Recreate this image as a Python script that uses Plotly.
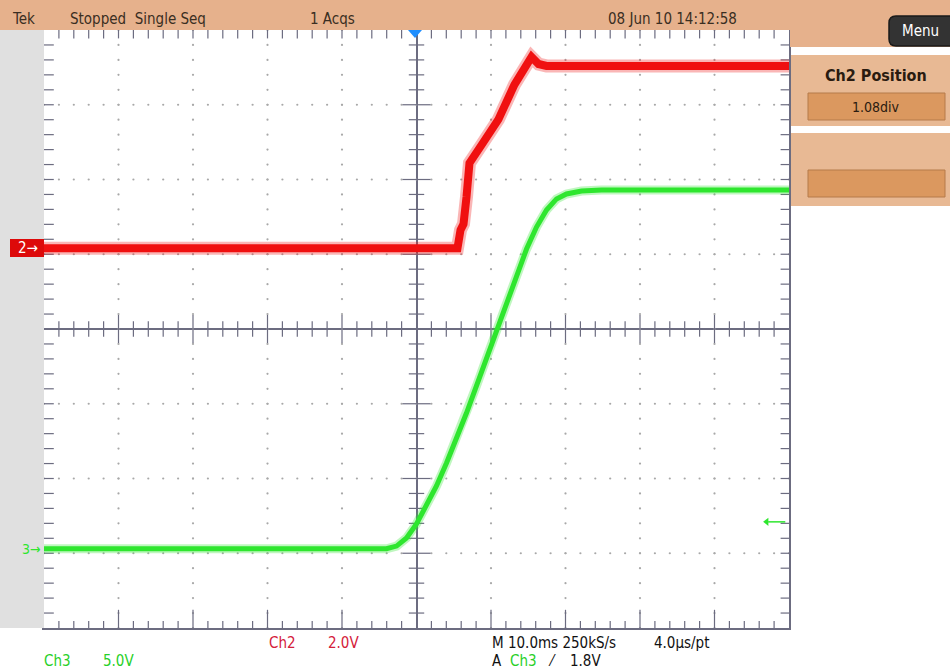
import numpy as np
import plotly.graph_objects as go

# ---------------- data ----------------
TIME_SCALE_MS = 10.0          # ms / div
CH2_SCALE_V = 2.0             # V / div
CH2_POS_DIV = 1.08            # div
CH3_SCALE_V = 5.0             # V / div
CH3_POS_DIV = -2.94           # div
TRIG_LEVEL_V = 1.8

ch2_time_ms = [-50.0, 5.50, 5.91, 6.31, 6.71, 7.11, 8.72, 11.00, 13.15, 15.03, 15.44, 16.38, 17.45, 50.0]
ch2_volts   = [0.00, 0.00, 0.49, 0.65, 1.37, 2.28, 2.76, 3.45, 4.38, 5.02, 5.12, 4.93, 4.88, 4.88]

ch3_time_ms = [-50.0, -4.03, -2.68, -1.34, 0.00, 1.34, 2.68, 4.03, 5.37, 6.71, 8.05, 9.40,
               10.74, 12.08, 13.42, 14.77, 16.11, 17.45, 18.79, 20.13, 22.15, 24.83, 50.0]
ch3_volts   = [0.00, 0.00, 0.18, 0.72, 1.66, 2.86, 4.20, 5.74, 7.34, 9.08, 10.89, 12.76,
               14.63, 16.51, 18.31, 20.05, 21.52, 22.66, 23.40, 23.73, 23.93, 24.00, 24.00]

header_labels = ["Tek", "Stopped  Single Seq", "1 Acqs", "08 Jun 10 14:12:58"]

# ---------------- helpers ----------------
L, R, T, B = 44, 789, 30, 628     # graticule pixel box
W, H = 950, 671


def PX(x):
    return (x - L) / (R - L)


def PY(y):
    return (B - y) / (B - T)


FONT = "Liberation Sans Narrow, DejaVu Sans Condensed, Arial Narrow, sans-serif"
GRAT = "#6c6c80"
RED = "#f01010"
GREEN = "#2ee62e"
PEACH = "#e6b18c"
PANEL = "#e8b994"
BUTTON = "#db985f"

ch2_x = [t / TIME_SCALE_MS for t in ch2_time_ms]
ch2_y = [CH2_POS_DIV + v / CH2_SCALE_V for v in ch2_volts]
ch3_x = [t / TIME_SCALE_MS for t in ch3_time_ms]
ch3_y = [CH3_POS_DIV + v / CH3_SCALE_V for v in ch3_volts]
trig_y = CH3_POS_DIV + TRIG_LEVEL_V / CH3_SCALE_V

fig = go.Figure()

# dotted graticule
sub = np.round(np.arange(-25, 26) * 0.2, 2)
suby = np.round(np.arange(-20, 21) * 0.2, 2)
gx, gy = [], []
for xv in range(-4, 5):
    if xv == 0:
        continue
    gx += [xv] * len(suby)
    gy += list(suby)
for yv in range(-3, 4):
    if yv == 0:
        continue
    gx += list(sub)
    gy += [yv] * len(sub)
fig.add_trace(go.Scatter(x=gx, y=gy, mode="markers", hoverinfo="skip",
                         marker=dict(size=2.2, color="#a8a8a8"), showlegend=False))


def ticks(xs, ys, symbol, size):
    fig.add_trace(go.Scatter(x=list(xs), y=list(ys), mode="markers", hoverinfo="skip",
                             cliponaxis=True,
                             marker=dict(symbol=symbol, size=size, color=GRAT,
                                         line=dict(color=GRAT, width=1.2)),
                             showlegend=False))


minor_x = [v for v in sub if abs(v - round(v)) > 1e-6]
major_x = [v for v in range(-4, 5) if v != 0]
minor_y = [v for v in suby if abs(v - round(v)) > 1e-6]
major_y = [v for v in range(-3, 4) if v != 0]

# centre-cross ticks
ticks(minor_x, [0] * len(minor_x), "line-ns-open", 11)
ticks(major_x, [0] * len(major_x), "line-ns-open", 20)
ticks([0] * len(minor_y), minor_y, "line-ew-open", 11)
ticks([0] * len(major_y), major_y, "line-ew-open", 20)
# edge ticks (half clipped by the plot area -> inward ticks)
ticks(minor_x + major_x, [4] * (len(minor_x) + len(major_x)), "line-ns-open", 12)
ticks(minor_x, [-4] * len(minor_x), "line-ns-open", 10)
ticks(major_x, [-4] * len(major_x), "line-ns-open", 26)
ticks([-5] * (len(minor_y) + len(major_y)), minor_y + major_y, "line-ew-open", 14)
ticks([5] * (len(minor_y) + len(major_y)), minor_y + major_y, "line-ew-open", 12)

# waveforms (soft halo + core to mimic the noisy band)
fig.add_trace(go.Scatter(x=ch3_x, y=ch3_y, mode="lines", hoverinfo="skip", opacity=0.3,
                         line=dict(color=GREEN, width=9), showlegend=False))
fig.add_trace(go.Scatter(x=ch3_x, y=ch3_y, mode="lines", name="Ch3",
                         line=dict(color=GREEN, width=5), showlegend=False))
fig.add_trace(go.Scatter(x=ch2_x, y=ch2_y, mode="lines", hoverinfo="skip", opacity=0.3,
                         line=dict(color=RED, width=13), showlegend=False))
fig.add_trace(go.Scatter(x=ch2_x, y=ch2_y, mode="lines", name="Ch2",
                         line=dict(color=RED, width=8), showlegend=False))

# trigger level marker on the right edge (arrow pointing left)
fig.add_trace(go.Scatter(x=[4.95, 4.72], y=[trig_y, trig_y], mode="lines", hoverinfo="skip",
                         cliponaxis=False, line=dict(color=GREEN, width=1.5), showlegend=False))
fig.add_trace(go.Scatter(x=[4.70], y=[trig_y], mode="markers", hoverinfo="skip",
                         cliponaxis=False,
                         marker=dict(symbol="triangle-left", size=7, color=GREEN), showlegend=False))

axis_common = dict(showgrid=False, zeroline=True, zerolinecolor=GRAT, zerolinewidth=1.5,
                   showline=True, linecolor=GRAT, linewidth=1.5, mirror=True,
                   ticks="", showticklabels=False, fixedrange=True)

shapes = []


def rect(x0, y0, x1, y1, color, line=None):
    shapes.append(dict(type="rect", xref="paper", yref="paper", layer="above",
                       x0=PX(x0), x1=PX(x1), y0=PY(y1), y1=PY(y0), fillcolor=color,
                       line=line or dict(width=0)))


# header bar and right panel
rect(0, 0, 950, 30, PEACH)
rect(790, 0, 950, 47, PEACH)
rect(791, 55, 950, 126, PANEL)
rect(791, 133, 950, 206, PANEL)
rect(808, 93, 945, 120, BUTTON, dict(color="#b57a4a", width=1))
rect(808, 170, 945, 197, BUTTON, dict(color="#b57a4a", width=1))
# Menu button (rounded)
mx0, mx1, my0, my1, rr = 889, 952, 16, 46, 7
shapes.append(dict(type="path", xref="paper", yref="paper", layer="above",
                   path=(f"M {PX(mx0 + rr)},{PY(my0)} L {PX(mx1)},{PY(my0)} L {PX(mx1)},{PY(my1)} "
                         f"L {PX(mx0 + rr)},{PY(my1)} Q {PX(mx0)},{PY(my1)} {PX(mx0)},{PY(my1 - rr)} "
                         f"L {PX(mx0)},{PY(my0 + rr)} Q {PX(mx0)},{PY(my0)} {PX(mx0 + rr)},{PY(my0)} Z"),
                   fillcolor="#333333", line=dict(color="#1a1a1a", width=1.5)))
# left strip
rect(0, 30, 44, 628, "#e0e0e0")
# ch2 marker box
rect(10, 239, 44, 257, "#dd0a0a")
# trigger position triangle
shapes.append(dict(type="path", xref="paper", yref="paper", layer="above",
                   path=f"M {PX(408)},{PY(30)} L {PX(422)},{PY(30)} L {PX(415)},{PY(38)} Z",
                   fillcolor="#1f8fff", line=dict(width=0)))

ann = []


def text(x, y, s, color="#3a2e22", size=15, anchor="left", bold=False):
    if bold:
        s = f"<b>{s}</b>"
    ann.append(dict(x=PX(x), y=PY(y), xref="paper", yref="paper", text=s, showarrow=False,
                    xanchor=anchor, yanchor="middle",
                    font=dict(family=FONT, size=size, color=color)))


text(10, 19, header_labels[0])
text(68, 19, header_labels[1])
text(308, 19, header_labels[2])
text(606, 19, header_labels[3])
text(920, 31, "Menu", color="white", size=15, anchor="center")
text(876, 76, "Ch2 Position", color="#2a1b10", size=16, anchor="center", bold=True)
text(876, 107, "1.08div", color="#2a1b10", size=14, anchor="center")

text(16, 248, "2→", color="white", size=15)
text(20, 549, "3→", color=GREEN, size=14)

text(267, 643, "Ch2", color="#d4203a", size=15)
text(326, 643, "2.0V", color="#d4203a", size=15)
text(42, 661, "Ch3", color="#28d028", size=15)
text(101, 661, "5.0V", color="#28d028", size=15)
text(490, 643, "M 10.0ms 250kS/s", color="#111111", size=15)
text(652, 643, "4.0µs/pt", color="#111111", size=15)
text(490, 661, "A", color="#111111", size=15)
text(508, 661, "Ch3", color="#28d028", size=15)
text(546, 661, "⁄", color="#111111", size=15)
text(568, 661, f"{TRIG_LEVEL_V:.1f}V", color="#111111", size=15)

fig.update_layout(
    width=W, height=H, autosize=False,
    margin=dict(l=L, r=W - R, t=T, b=H - B, pad=0),
    paper_bgcolor="white", plot_bgcolor="white",
    xaxis=dict(range=[-5, 5], **axis_common),
    yaxis=dict(range=[-4, 4], **axis_common),
    shapes=shapes, annotations=ann, showlegend=False,
)

fig.write_html("out.html")
